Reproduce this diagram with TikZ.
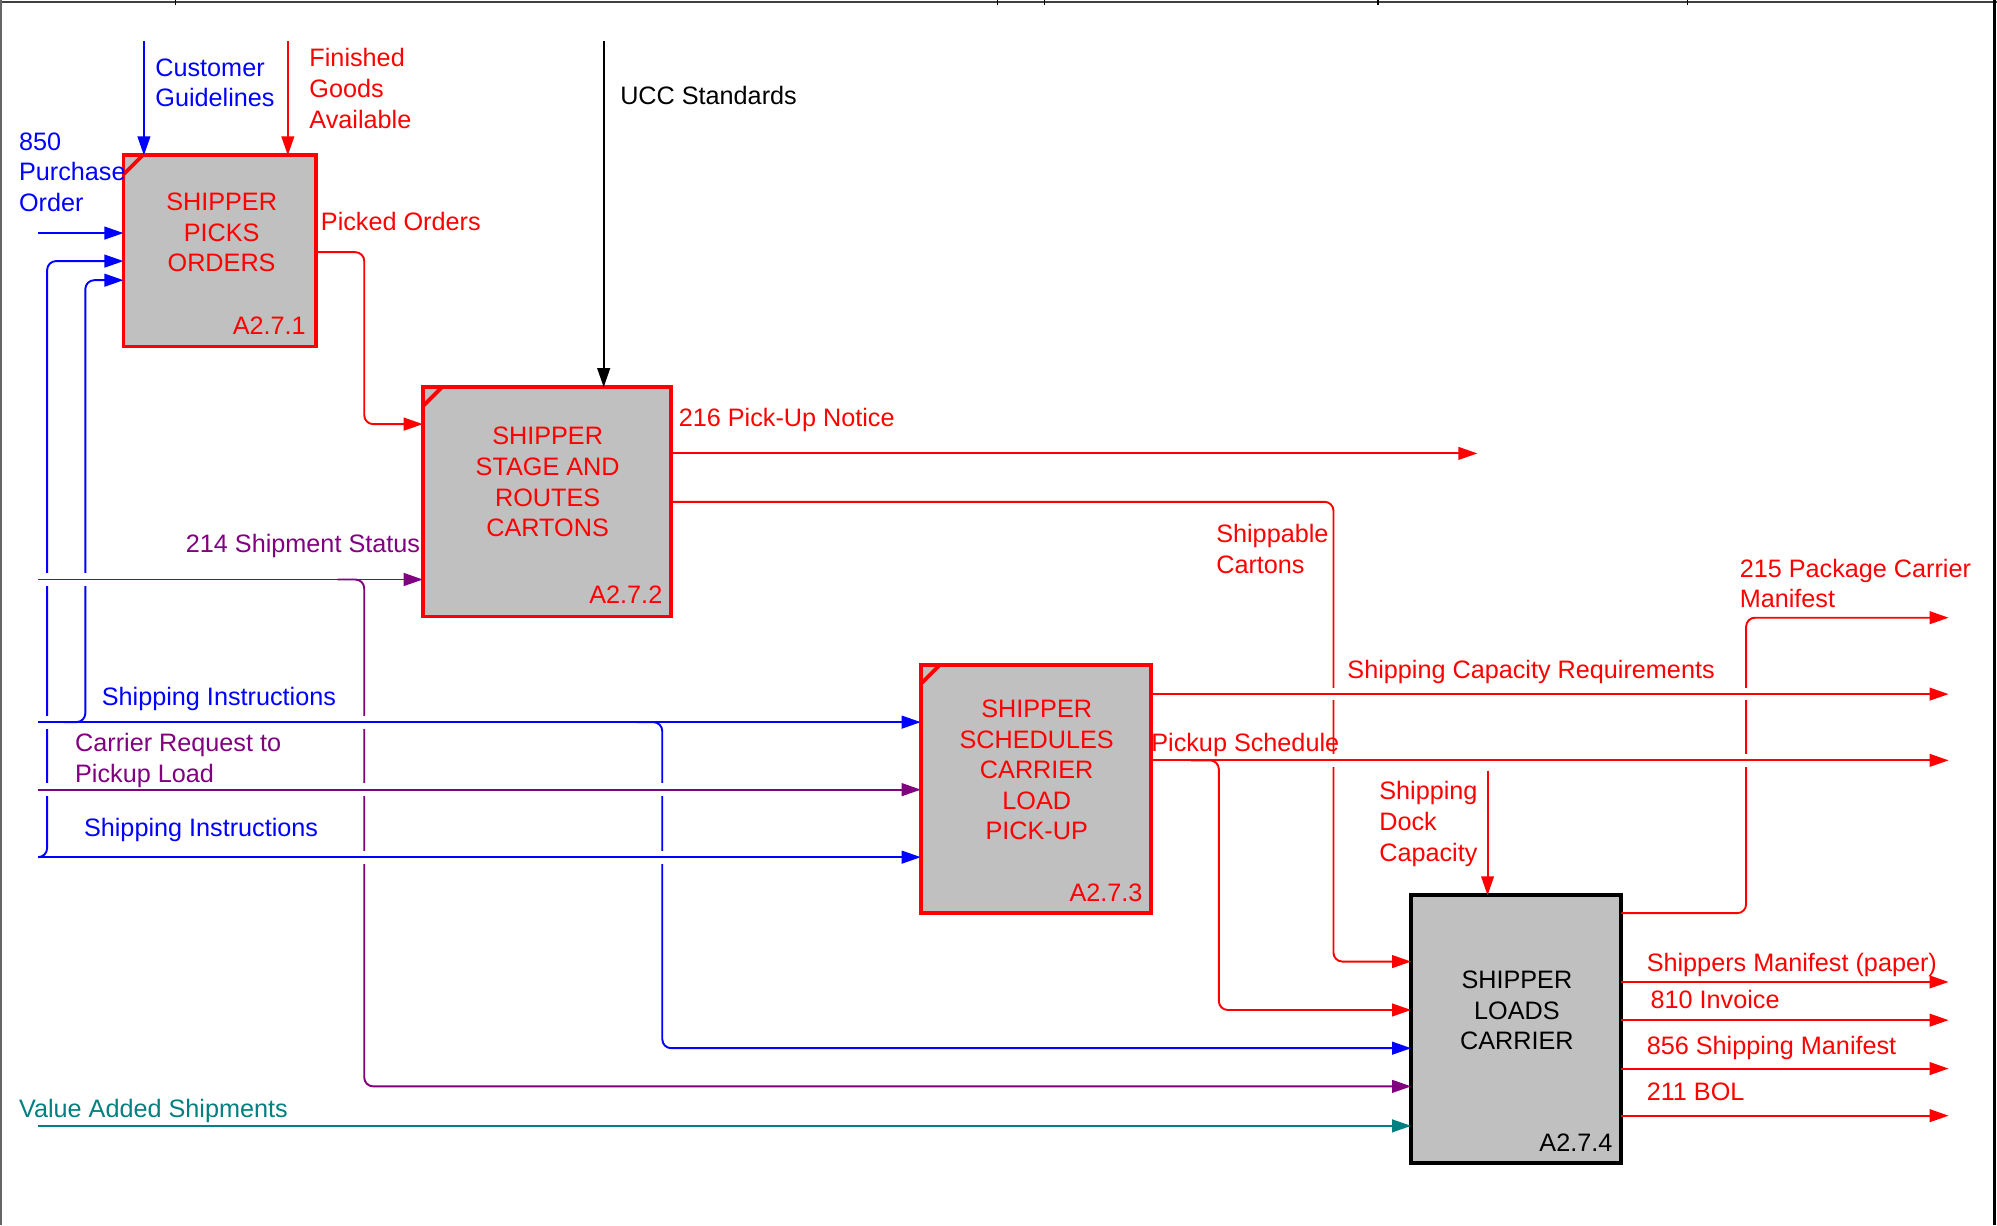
\documentclass[tikz,border=0pt]{standalone}
\usepackage{fontspec}
\setmainfont{Liberation Sans}
\usetikzlibrary{arrows.meta}
\definecolor{cblue}{RGB}{0,0,255}
\definecolor{cred}{RGB}{255,0,0}
\definecolor{cpurple}{RGB}{128,0,128}
\definecolor{cteal}{RGB}{0,128,128}
\definecolor{cgray}{RGB}{192,192,192}
\begin{document}
\begin{tikzpicture}[x=1pt,y=-1pt,
  every node/.style={font=\fontsize{19.8}{24}\selectfont, inner sep=0pt, outer sep=0pt},
  proc/.style={draw, line width=3pt, fill=cgray, anchor=north west},
  btext/.style={align=center, yshift=-1.5pt},
  idtext/.style={anchor=east, yshift=-1pt},
  lbl/.style={anchor=west, align=left, yshift=-2pt},
  conn/.style={line width=1.5pt, rounded corners=7pt, -{Triangle[length=15pt,width=10pt]}},
  plain/.style={line width=1.5pt, rounded corners=7pt},
  gapw/.style={draw=white, line width=4pt}
]
\useasboundingbox (0,0) rectangle (1568,962);
% frame
\draw[line width=1.5pt, black!75] (0,1.5) -- (1568,1.5);
\foreach \tx in {138,783,820,1082,1325} \draw[line width=1pt] (\tx,0) -- (\tx,4);
\draw[line width=1.5pt, black!60] (1,0) -- (1,962);
\draw[line width=2.5pt] (1566,0) -- (1566,962);

% boxes
\node[proc, draw=cred, minimum width=151pt, minimum height=150pt] (b1) at (97,122) {};
\node[proc, draw=cred, minimum width=195pt, minimum height=180pt] (b2) at (332,304) {};
\node[proc, draw=cred, minimum width=181pt, minimum height=195pt] (b3) at (723,522) {};
\node[proc, draw=black, minimum width=165pt, minimum height=210pt] (b4) at (1108,703) {};
\draw[cred, line width=3pt] ([yshift=-15pt]b1.north west) -- ([xshift=15pt]b1.north west);
\draw[cred, line width=3pt] ([yshift=-15pt]b2.north west) -- ([xshift=15pt]b2.north west);
\draw[cred, line width=3pt] ([yshift=-15pt]b3.north west) -- ([xshift=15pt]b3.north west);

\node[btext, text=cred] (b1t) at (174,181) {SHIPPER\\PICKS\\ORDERS};
\node[btext, text=cred] (b2t) at (430,377) {SHIPPER\\STAGE AND\\ROUTES\\CARTONS};
\node[btext, text=cred] (b3t) at (814,603) {SHIPPER\\SCHEDULES\\CARRIER\\LOAD\\PICK-UP};
\node[btext, text=black] (b4t) at (1191,792) {SHIPPER\\LOADS\\CARRIER};
\node[idtext, text=cred] (b1id) at (240,255) {A2.7.1};
\node[idtext, text=cred] (b2id) at (520,466) {A2.7.2};
\node[idtext, text=cred] (b3id) at (897,700) {A2.7.3};
\node[idtext, text=black] (b4id) at (1266,896) {A2.7.4};

% free ends
\coordinate (po) at (30,183);
\coordinate (cg) at (113,32);
\coordinate (fg) at (226,32);
\coordinate (ucc) at (474,32);
\coordinate (ss) at (30,455);
\coordinate (si1) at (30,567);
\coordinate (cr) at (30,620);
\coordinate (si2) at (30,673);
\coordinate (va) at (30,884);
\coordinate (pun) at (1160,356);
\coordinate (scr) at (1530,545);
\coordinate (psc) at (1530,597);
\coordinate (sdc) at (1168,605);
\coordinate (pcm) at (1530,485);
\coordinate (smp) at (1530,771);
\coordinate (inv) at (1530,801);
\coordinate (ssm) at (1530,839);
\coordinate (bol) at (1530,876);

% branch / vertical connectors first
\draw[conn, cblue] (si2) -- (37,673) -- (37,205) -- (b1.west |- 0,205);
\draw[conn, cblue] (50,567) -- (67,567) -- (67,220) -- (b1.west |- 0,220);
\draw[conn, cblue] (500,567) -- (520,567) -- (520,823) -- (b4.west |- 0,823);
\draw[conn, cpurple] (265,455) -- (286,455) -- (286,853) -- (b4.west |- 0,853);
\draw[conn, cred] (b1.east |- 0,198) -- (286,198) -- (286,333) -- (b2.west |- 0,333);
\draw[conn, cred] (b2.east |- 0,394) -- (1047,394) -- (1047,755) -- (b4.west |- 0,755);
\draw[conn, cred] (935,597) -- (957,597) -- (957,793) -- (b4.west |- 0,793);
\draw[conn, cred] (b4.east |- 0,717) -- (1371,717) -- (1371,485) -- (pcm);

% crossing gaps
\foreach \gx/\gy in {37/455,37/567,37/620,67/455,286/567,286/620,286/673,520/620,520/673,1047/545,1047/597,1371/545,1371/597}
  \draw[gapw] (\gx,\gy-5) -- (\gx,\gy+5);

% straight connectors
\draw[conn, cblue] (po) -- (po -| b1.west);
\draw[conn, cblue] (cg) -- (cg |- b1.north);
\draw[conn, cred] (fg) -- (fg |- b1.north);
\draw[conn, black] (ucc) -- (ucc |- b2.north);
\draw[conn, cpurple] (ss) -- (ss -| b2.west);
\draw[conn, cblue] (si1) -- (si1 -| b3.west);
\draw[conn, cpurple] (cr) -- (cr -| b3.west);
\draw[conn, cblue] (si2) -- (si2 -| b3.west);
\draw[conn, cteal] (va) -- (va -| b4.west);
\draw[conn, cred] (b2.east |- pun) -- (pun);
\draw[conn, cred] (b3.east |- scr) -- (scr);
\draw[conn, cred] (b3.east |- psc) -- (psc);
\draw[conn, cred] (sdc) -- (sdc |- b4.north);
\draw[conn, cred] (b4.east |- smp) -- (smp);
\draw[conn, cred] (b4.east |- inv) -- (inv);
\draw[conn, cred] (b4.east |- ssm) -- (ssm);
\draw[conn, cred] (b4.east |- bol) -- (bol);

% labels
\node[lbl, text=cblue] (l850) at (15,133) {850\\Purchase\\Order};
\node[lbl, text=cblue] (lcg) at (122,63) {Customer\\Guidelines};
\node[lbl, text=cred] (lfg) at (243,67.5) {Finished\\Goods\\Available};
\node[lbl, text=black] (lucc) at (487,73) {UCC Standards};
\node[lbl, text=cred] (lpo) at (252,172) {Picked Orders};
\node[lbl, text=cred] (l216) at (533,328) {216 Pick-Up Notice};
\node[lbl, text=cpurple] (l214) at (146,427) {214 Shipment Status};
\node[lbl, text=cred] (lshc) at (955,429) {Shippable\\Cartons};
\node[lbl, text=cred] (l215) at (1366,456) {215 Package Carrier\\Manifest};
\node[lbl, text=cred] (lscr) at (1058,526) {Shipping Capacity Requirements};
\node[lbl, text=cred] (lpsc) at (904,583) {Pickup Schedule};
\node[lbl, text=cred] (lsdc) at (1083,645) {Shipping\\Dock\\Capacity};
\node[lbl, text=cblue] (lsi1) at (80,547) {Shipping Instructions};
\node[lbl, text=cpurple] (lcr) at (59,595) {Carrier Request to\\Pickup Load};
\node[lbl, text=cblue] (lsi2) at (66,650) {Shipping Instructions};
\node[lbl, text=cteal] (lva) at (15,870) {Value Added Shipments};
\node[lbl, text=cred] (lsmp) at (1293,756) {Shippers Manifest (paper)};
\node[lbl, text=cred] (linv) at (1296,783) {810 Invoice};
\node[lbl, text=cred] (lssm) at (1293,821) {856 Shipping Manifest};
\node[lbl, text=cred] (lbol) at (1293,855) {211 BOL};
\end{tikzpicture}
\end{document}
